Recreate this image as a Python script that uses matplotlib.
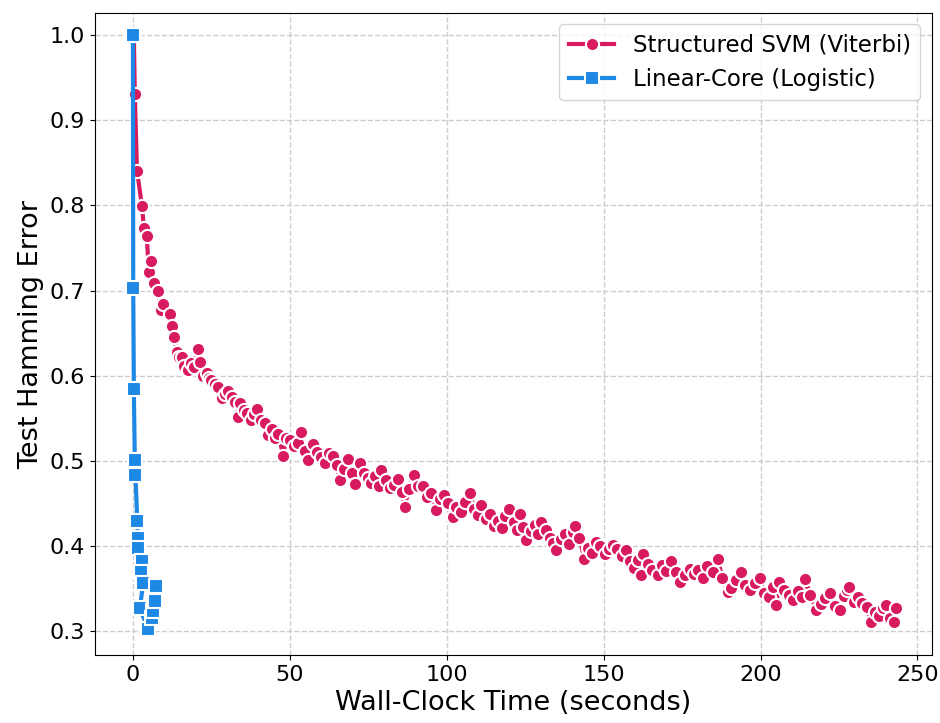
import matplotlib
matplotlib.use('Agg')
from matplotlib import pyplot as plt

# Structured SVM (Viterbi): wall-clock time [s] and test hamming error
svm_time = [
    0.3, 0.6, 1.3, 2.9, 3.5, 4.4, 5.1, 5.7, 6.8, 8.1, 8.9, 9.6,
    11.8, 12.6, 13.2, 13.9, 14.6, 15.5, 16.3, 17.6, 18.5, 19.4, 20.6, 21.3,
    22.2, 23.5, 24.3, 25.0, 26.1, 27.2, 28.3, 29.3, 30.4, 31.5, 32.6, 33.6,
    34.1, 35.3, 36.4, 37.5, 38.7, 39.7, 40.9, 42.0, 43.1, 44.3, 45.4, 46.3,
    47.9, 48.8, 50.0, 51.2, 52.5, 53.7, 54.8, 55.8, 57.4, 58.6, 59.9, 61.1,
    62.5, 63.8, 65.1, 65.9, 67.3, 68.6, 69.8, 70.7, 72.3, 73.5, 74.8, 76.0,
    77.3, 78.5, 79.2, 80.6, 81.9, 83.1, 84.5, 85.8, 86.6, 87.9, 89.6, 90.8,
    92.5, 93.7, 95.0, 96.7, 97.8, 99.1, 100.4, 102.0, 103.1, 104.5, 105.8, 107.5,
    108.7, 110.0, 111.0, 112.4, 113.7, 115.0, 116.3, 117.6, 118.7, 120.0, 121.4, 122.5,
    123.2, 124.4, 125.4, 126.8, 128.0, 129.2, 130.2, 131.5, 132.8, 134.0, 134.9, 136.3,
    137.6, 139.0, 140.1, 140.8, 142.3, 143.9, 145.0, 146.4, 147.7, 149.0, 150.4, 151.7,
    153.0, 154.4, 155.7, 157.0, 158.4, 159.8, 161.0, 162.0, 162.5, 164.0, 165.4, 167.3,
    168.5, 170.0, 171.5, 173.0, 174.5, 176.0, 177.4, 178.8, 180.2, 181.6, 183.0, 184.8,
    186.4, 187.8, 189.6, 190.7, 192.2, 193.8, 195.2, 196.8, 198.2, 199.7, 201.2, 202.6,
    204.0, 205.0, 206.0, 207.5, 209.0, 210.5, 212.0, 213.3, 214.3, 215.8, 217.7, 219.2,
    220.6, 222.0, 223.6, 225.2, 226.5, 227.5, 228.3, 229.7, 231.0, 232.3, 233.8, 235.2,
    236.5, 237.8, 239.0, 240.0, 241.2, 242.4, 243.2,
]
svm_err = [
    1.000, 0.931, 0.841, 0.799, 0.773, 0.764, 0.722, 0.735, 0.709, 0.700, 0.677, 0.684,
    0.673, 0.658, 0.646, 0.628, 0.622, 0.622, 0.612, 0.607, 0.615, 0.610, 0.632, 0.616,
    0.600, 0.603, 0.597, 0.595, 0.590, 0.587, 0.574, 0.579, 0.582, 0.575, 0.569, 0.552,
    0.568, 0.560, 0.556, 0.548, 0.555, 0.561, 0.548, 0.544, 0.530, 0.538, 0.527, 0.532,
    0.506, 0.527, 0.524, 0.518, 0.521, 0.534, 0.512, 0.501, 0.520, 0.510, 0.504, 0.497,
    0.509, 0.506, 0.495, 0.477, 0.491, 0.502, 0.486, 0.473, 0.498, 0.486, 0.480, 0.474,
    0.482, 0.470, 0.489, 0.477, 0.468, 0.472, 0.479, 0.463, 0.446, 0.467, 0.483, 0.470,
    0.471, 0.458, 0.462, 0.442, 0.455, 0.460, 0.450, 0.434, 0.446, 0.440, 0.452, 0.462,
    0.443, 0.437, 0.448, 0.432, 0.438, 0.424, 0.430, 0.421, 0.435, 0.444, 0.428, 0.419,
    0.438, 0.422, 0.407, 0.418, 0.425, 0.414, 0.428, 0.419, 0.410, 0.404, 0.395, 0.408,
    0.414, 0.402, 0.417, 0.424, 0.409, 0.385, 0.398, 0.392, 0.405, 0.400, 0.391, 0.396,
    0.401, 0.396, 0.388, 0.395, 0.382, 0.374, 0.384, 0.366, 0.391, 0.379, 0.372, 0.366,
    0.378, 0.371, 0.383, 0.370, 0.358, 0.366, 0.373, 0.367, 0.372, 0.363, 0.377, 0.370,
    0.385, 0.362, 0.346, 0.351, 0.360, 0.370, 0.354, 0.348, 0.357, 0.363, 0.345, 0.340,
    0.352, 0.331, 0.358, 0.348, 0.342, 0.337, 0.347, 0.340, 0.361, 0.343, 0.325, 0.332,
    0.339, 0.345, 0.330, 0.325, 0.341, 0.348, 0.352, 0.334, 0.340, 0.333, 0.328, 0.311,
    0.322, 0.318, 0.327, 0.331, 0.316, 0.311, 0.327,
]

# Linear-Core (Logistic)
lin_time = [0.0, 0.1, 0.3, 0.6, 0.8, 1.4, 1.5, 1.7, 2.9, 2.5, 3.3, 2.2, 4.8, 6.0, 6.3, 7.0, 7.4]
lin_err = [1.000, 0.703, 0.584, 0.501, 0.484, 0.429, 0.410, 0.398, 0.383, 0.370, 0.357,
           0.327, 0.303, 0.315, 0.324, 0.336, 0.353]

PINK = '#D81B60'
BLUE = '#1E88E5'

fig = plt.figure(figsize=(9.4, 7.23), dpi=100)
ax = fig.add_subplot(111)
fig.subplots_adjust(left=0.101, right=0.991, top=0.982, bottom=0.094)

ax.plot(svm_time, svm_err, color=PINK, linewidth=3, marker='o', markersize=9.5,
        markeredgecolor='white', markeredgewidth=1.5, label='Structured SVM (Viterbi)')
ax.plot(lin_time, lin_err, color=BLUE, linewidth=3, marker='s', markersize=9.5,
        markeredgecolor='white', markeredgewidth=1.5, label='Linear-Core (Logistic)')

ax.set_xlim(-12.1, 254.5)
ax.set_ylim(0.272, 1.026)
ax.set_xticks([0, 50, 100, 150, 200, 250])
ax.set_yticks([0.3, 0.4, 0.5, 0.6, 0.7, 0.8, 0.9, 1.0])
ax.tick_params(labelsize=16)
ax.set_xlabel('Wall-Clock Time (seconds)', fontsize=19.5)
ax.set_ylabel('Test Hamming Error', fontsize=19.5)
ax.grid(True, linestyle='--', color='#cccccc', linewidth=1)
ax.set_axisbelow(True)
ax.legend(loc='upper right', fontsize=16.5)

fig.savefig('out.png', dpi=100)
